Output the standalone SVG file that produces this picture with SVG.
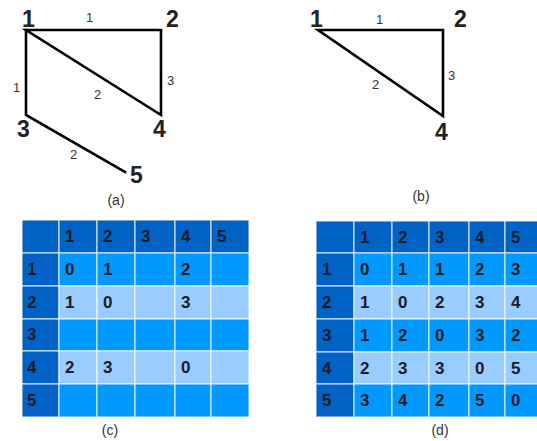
<svg xmlns="http://www.w3.org/2000/svg" width="537" height="441" viewBox="0 0 537 441">
<style>
.e{stroke:#000;stroke-width:2.6;fill:none;stroke-linejoin:miter;stroke-linecap:square}
.n{font-family:"Liberation Sans",Arial,sans-serif;font-weight:bold;font-size:23px;fill:#222}
.w{font-family:"Liberation Sans",Arial,sans-serif;font-size:13px;fill:#333}
.cap{font-family:"Liberation Sans",Arial,sans-serif;font-size:14px;fill:#333;text-anchor:middle}
.h{fill:#0062c4}
.b{fill:#0099ff}
.l{fill:#99ccff}
.g rect{stroke:#ffffff;stroke-opacity:0.75;stroke-width:1.2}
.t{font-family:"Liberation Sans",Arial,sans-serif;font-weight:bold;font-size:17px;fill:#1c1c24}
</style>
<g id="connectors">
<path class="e" d="M26,30 H161 V115 Z"/>
<path class="e" d="M26,30 V115 L125,172"/>
<path class="e" d="M318,30 H443 V116 Z"/>
</g>
<g id="graph-a">
<g id="a-n1"><text class="n" x="22" y="27">1</text></g>
<g id="a-n2"><text class="n" x="166" y="27">2</text></g>
<g id="a-n3"><text class="n" x="17" y="137">3</text></g>
<g id="a-n4"><text class="n" x="153" y="137">4</text></g>
<g id="a-n5"><text class="n" x="130" y="183">5</text></g>
<text class="w" x="86" y="22">1</text>
<text class="w" x="13" y="92">1</text>
<text class="w" x="167" y="85">3</text>
<text class="w" x="94" y="99">2</text>
<text class="w" x="70" y="159">2</text>
<text class="cap" x="116" y="205">(a)</text>
</g>
<g id="graph-b">
<g id="b-n1"><text class="n" x="310" y="27">1</text></g>
<g id="b-n2"><text class="n" x="454" y="27">2</text></g>
<g id="b-n4"><text class="n" x="435" y="140">4</text></g>
<text class="w" x="376" y="24">1</text>
<text class="w" x="448" y="80">3</text>
<text class="w" x="372" y="89">2</text>
<text class="cap" x="421" y="201">(b)</text>
</g>
<g id="table-c" class="g">
<rect class="h" x="22" y="220" width="37" height="33"/>
<rect class="h" x="59" y="220" width="38" height="33"/>
<rect class="h" x="97" y="220" width="38" height="33"/>
<rect class="h" x="135" y="220" width="40" height="33"/>
<rect class="h" x="175" y="220" width="36" height="33"/>
<rect class="h" x="211" y="220" width="38" height="33"/>
<rect class="h" x="22" y="253" width="37" height="33"/>
<rect class="h" x="22" y="286" width="37" height="33"/>
<rect class="h" x="22" y="319" width="37" height="32"/>
<rect class="h" x="22" y="351" width="37" height="33"/>
<rect class="h" x="22" y="384" width="37" height="33"/>
<rect class="b" x="59" y="253" width="38" height="33"/><rect class="b" x="97" y="253" width="38" height="33"/><rect class="b" x="135" y="253" width="40" height="33"/><rect class="b" x="175" y="253" width="36" height="33"/><rect class="b" x="211" y="253" width="38" height="33"/>
<rect class="l" x="59" y="286" width="38" height="33"/><rect class="l" x="97" y="286" width="38" height="33"/><rect class="l" x="135" y="286" width="40" height="33"/><rect class="l" x="175" y="286" width="36" height="33"/><rect class="l" x="211" y="286" width="38" height="33"/>
<rect class="b" x="59" y="319" width="38" height="32"/><rect class="b" x="97" y="319" width="38" height="32"/><rect class="b" x="135" y="319" width="40" height="32"/><rect class="b" x="175" y="319" width="36" height="32"/><rect class="b" x="211" y="319" width="38" height="32"/>
<rect class="l" x="59" y="351" width="38" height="33"/><rect class="l" x="97" y="351" width="38" height="33"/><rect class="l" x="135" y="351" width="40" height="33"/><rect class="l" x="175" y="351" width="36" height="33"/><rect class="l" x="211" y="351" width="38" height="33"/>
<rect class="b" x="59" y="384" width="38" height="33"/><rect class="b" x="97" y="384" width="38" height="33"/><rect class="b" x="135" y="384" width="40" height="33"/><rect class="b" x="175" y="384" width="36" height="33"/><rect class="b" x="211" y="384" width="38" height="33"/>
<text class="t" x="65" y="242">1</text><text class="t" x="103" y="242">2</text><text class="t" x="141" y="242">3</text><text class="t" x="181" y="242">4</text><text class="t" x="217" y="242">5</text>
<text class="t" x="27" y="275">1</text><text class="t" x="27" y="308">2</text><text class="t" x="27" y="340">3</text><text class="t" x="27" y="373">4</text><text class="t" x="27" y="406">5</text>
<text class="t" x="65" y="275">0</text><text class="t" x="103" y="275">1</text><text class="t" x="181" y="275">2</text>
<text class="t" x="65" y="308">1</text><text class="t" x="103" y="308">0</text><text class="t" x="181" y="308">3</text>
<text class="t" x="65" y="373">2</text><text class="t" x="103" y="373">3</text><text class="t" x="181" y="373">0</text>
</g>
<text class="cap" x="110" y="435">(c)</text>
<g id="table-d" class="g">
<rect class="h" x="316" y="221" width="38" height="32"/>
<rect class="h" x="354" y="221" width="38" height="32"/>
<rect class="h" x="392" y="221" width="37" height="32"/>
<rect class="h" x="429" y="221" width="40" height="32"/>
<rect class="h" x="469" y="221" width="36" height="32"/>
<rect class="h" x="505" y="221" width="33" height="32"/>
<rect class="h" x="316" y="253" width="38" height="33"/>
<rect class="h" x="316" y="286" width="38" height="33"/>
<rect class="h" x="316" y="319" width="38" height="33"/>
<rect class="h" x="316" y="352" width="38" height="32"/>
<rect class="h" x="316" y="384" width="38" height="33"/>
<rect class="b" x="354" y="253" width="38" height="33"/><rect class="b" x="392" y="253" width="37" height="33"/><rect class="b" x="429" y="253" width="40" height="33"/><rect class="b" x="469" y="253" width="36" height="33"/><rect class="b" x="505" y="253" width="33" height="33"/>
<rect class="l" x="354" y="286" width="38" height="33"/><rect class="l" x="392" y="286" width="37" height="33"/><rect class="l" x="429" y="286" width="40" height="33"/><rect class="l" x="469" y="286" width="36" height="33"/><rect class="l" x="505" y="286" width="33" height="33"/>
<rect class="b" x="354" y="319" width="38" height="33"/><rect class="b" x="392" y="319" width="37" height="33"/><rect class="b" x="429" y="319" width="40" height="33"/><rect class="b" x="469" y="319" width="36" height="33"/><rect class="b" x="505" y="319" width="33" height="33"/>
<rect class="l" x="354" y="352" width="38" height="32"/><rect class="l" x="392" y="352" width="37" height="32"/><rect class="l" x="429" y="352" width="40" height="32"/><rect class="l" x="469" y="352" width="36" height="32"/><rect class="l" x="505" y="352" width="33" height="32"/>
<rect class="b" x="354" y="384" width="38" height="33"/><rect class="b" x="392" y="384" width="37" height="33"/><rect class="b" x="429" y="384" width="40" height="33"/><rect class="b" x="469" y="384" width="36" height="33"/><rect class="b" x="505" y="384" width="33" height="33"/>
<text class="t" x="360" y="243">1</text><text class="t" x="398" y="243">2</text><text class="t" x="435" y="243">3</text><text class="t" x="475" y="243">4</text><text class="t" x="511" y="243">5</text>
<text class="t" x="322" y="275">1</text><text class="t" x="322" y="308">2</text><text class="t" x="322" y="341">3</text><text class="t" x="322" y="374">4</text><text class="t" x="322" y="406">5</text>
<text class="t" x="360" y="275">0</text><text class="t" x="398" y="275">1</text><text class="t" x="435" y="275">1</text><text class="t" x="475" y="275">2</text><text class="t" x="511" y="275">3</text>
<text class="t" x="360" y="308">1</text><text class="t" x="398" y="308">0</text><text class="t" x="435" y="308">2</text><text class="t" x="475" y="308">3</text><text class="t" x="511" y="308">4</text>
<text class="t" x="360" y="341">1</text><text class="t" x="398" y="341">2</text><text class="t" x="435" y="341">0</text><text class="t" x="475" y="341">3</text><text class="t" x="511" y="341">2</text>
<text class="t" x="360" y="374">2</text><text class="t" x="398" y="374">3</text><text class="t" x="435" y="374">3</text><text class="t" x="475" y="374">0</text><text class="t" x="511" y="374">5</text>
<text class="t" x="360" y="406">3</text><text class="t" x="398" y="406">4</text><text class="t" x="435" y="406">2</text><text class="t" x="475" y="406">5</text><text class="t" x="511" y="406">0</text>
</g>
<text class="cap" x="440" y="435">(d)</text>
</svg>
